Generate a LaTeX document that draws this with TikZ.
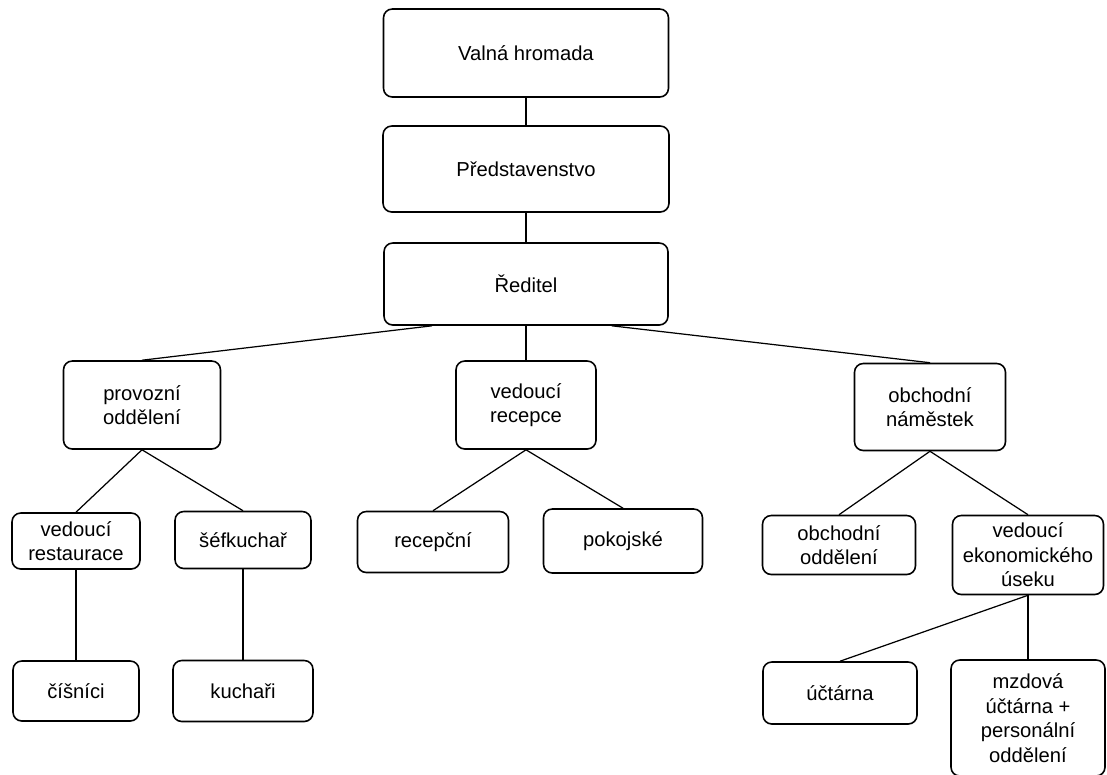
\documentclass[tikz,border=0pt]{standalone}
\usepackage{fontspec}
\setmainfont{Liberation Sans}
\usetikzlibrary{positioning}

\begin{document}
\begin{tikzpicture}[x=0.02cm, y=-0.02cm,
    box/.style={draw, rounded corners=5pt, line width=0.9pt, align=center, inner sep=1pt, font=\fontsize{11.5}{14}\selectfont},
    sz/.style 2 args={minimum width=#1*0.02cm, minimum height=#2*0.02cm}]
    \useasboundingbox (0,0) rectangle (1107,775);

    \node [box, sz={285}{88}] (n0) at (526,53) {Valná hromada};
    \node [box, sz={286}{86}] (n1) at (526,169) {Představenstvo};
    \node [box, sz={284}{82}] (n2) at (526,284) {Ředitel};

    \node [box, sz={157}{88}] (n3) at (142,405) {provozní\\oddělení};
    \node [box, sz={140}{88}] (n4) at (526,405) {vedoucí\\recepce};
    \node [box, sz={151}{87}] (n5) at (930,407) {obchodní\\náměstek};

    \node [box, sz={128}{56}] (n6) at (76,541) {vedoucí\\restaurace};
    \node [box, sz={136}{57}] (n7) at (243,540) {šéfkuchař};
    \node [box, sz={151}{61}] (n8) at (433,542) {recepční};
    \node [box, sz={159}{64}] (n9) at (623,541) {pokojské};
    \node [box, sz={153}{59}] (n10) at (839,545) {obchodní\\oddělení};
    \node [box, sz={151}{79}] (n11) at (1028,555) {vedoucí\\ekonomického\\úseku};

    \node [box, sz={126}{60}] (n12) at (76,691) {číšníci};
    \node [box, sz={140}{61}] (n13) at (243,691) {kuchaři};
    \node [box, sz={154}{62}] (n14) at (840,693) {účtárna};
    \node [box, sz={154}{116}] (n15) at (1028,718) {mzdová\\účtárna +\\personální\\oddělení};

    \path[draw, line width=0.7pt]
        (n0) edge (n1)
        (n1) edge (n2)
        (n2.204) edge (n3.north)
        (n2) edge (n4)
        (n2.334) edge (n5.north)
        (n3.south) edge (n6.north)
        (n3.south) edge (n7.north)
        (n4.south) edge (n8.north)
        (n4.south) edge (n9.north)
        (n5.south) edge (n10.north)
        (n5.south) edge (n11.north)
        (n6) edge (n12)
        (n7) edge (n13)
        (n11.south) edge (n14.north)
        (n11) edge (n15);
\end{tikzpicture}
\end{document}
